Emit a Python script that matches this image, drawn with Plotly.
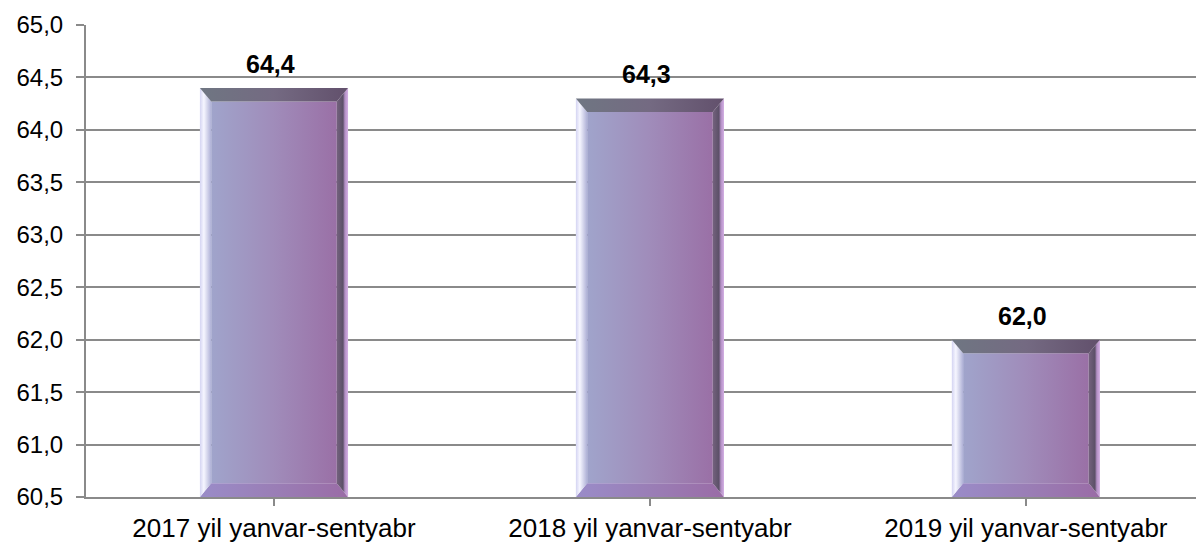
import plotly.graph_objects as go

# data
categories = ['2017 yil yanvar-sentyabr', '2018 yil yanvar-sentyabr', '2019 yil yanvar-sentyabr']
values = [64.4, 64.3, 62.0]
y_min, y_max = 60.5, 65.0

# bar geometry (category units / value units)
HW = 0.197   # half bar width
BX = 0.030   # bevel width
BY = 0.13    # bevel height

FONT = 'Liberation Sans, Arial, sans-serif'
GRID = '#8a8a8a'
PAGE = 8     # default body margin of the html page

fig = go.Figure()


def face(xs, ys, scale):
    fig.add_trace(go.Scatter(
        x=xs + [xs[0]], y=ys + [ys[0]], fill='toself', mode='lines',
        line=dict(width=0, color='rgba(0,0,0,0)'),
        fillgradient=dict(type='horizontal', colorscale=scale),
        hoverinfo='skip', showlegend=False))


for i, v in enumerate(values):
    l, r = i - HW, i + HW
    li, ri = l + BX, r - BX
    b, bi, ti = y_min, y_min + BY, v - BY
    # front
    face([li, ri, ri, li], [bi, bi, ti, ti],
         [[0, '#a0a4cb'], [0.5, '#a08cba'], [1, '#9a70a6']])
    # bottom bevel
    face([l, r, ri, li], [b, b, bi, bi],
         [[0, '#9a8cc8'], [0.5, '#9a7eb6'], [1, '#9a6ca6']])
    # left bevel
    face([l, li, li, l], [v, ti, bi, b],
         [[0, '#d4d4f2'], [0.35, '#f6f6ff'], [1, '#aeb0d6']])
    # right bevel
    face([ri, r, r, ri], [ti, v, b, bi],
         [[0, '#74627e'], [0.55, '#5c5068'], [0.72, '#b28ec4'], [1, '#d4b0e4']])
    # top bevel
    face([l, r, ri, li], [v, v, ti, ti],
         [[0, '#6f7682'], [0.5, '#746a82'], [1, '#62506c']])

for i, v in enumerate(values):
    fig.add_annotation(x=i, y=v, text='<b>' + f'{v:.1f}'.replace('.', ',') + '</b>',
                       showarrow=False, yanchor='bottom', yshift=8, xshift=-3,
                       font=dict(family=FONT, size=25, color='black'))

fig.update_layout(
    width=1204, height=543,
    margin=dict(l=86 - PAGE, r=0, t=25 - PAGE, b=46 + PAGE),
    plot_bgcolor='white', paper_bgcolor='white',
    showlegend=False,
    separators=',.',
    font=dict(family=FONT, color='black'),
    xaxis=dict(
        range=[-0.5, 2.495], automargin=False,
        tickmode='array', tickvals=[0, 1, 2], ticktext=categories,
        tickson='boundaries', ticks='outside', ticklen=7, tickcolor=GRID, tickwidth=2,
        showgrid=False, showline=True, linecolor=GRID, linewidth=2, zeroline=False,
        tickfont=dict(family=FONT, size=26, color='black'),
    ),
    yaxis=dict(
        range=[y_min, y_max], dtick=0.5, tick0=y_min, tickformat='.1f', automargin=False,
        ticks='outside', ticklen=8, tickcolor=GRID, tickwidth=2, ticklabelstandoff=8,
        showgrid=True, gridcolor=GRID, gridwidth=1.5,
        showline=True, linecolor=GRID, linewidth=2, zeroline=False,
        tickfont=dict(family=FONT, size=24, color='black'),
    ),
)

fig.write_html('out.html')
